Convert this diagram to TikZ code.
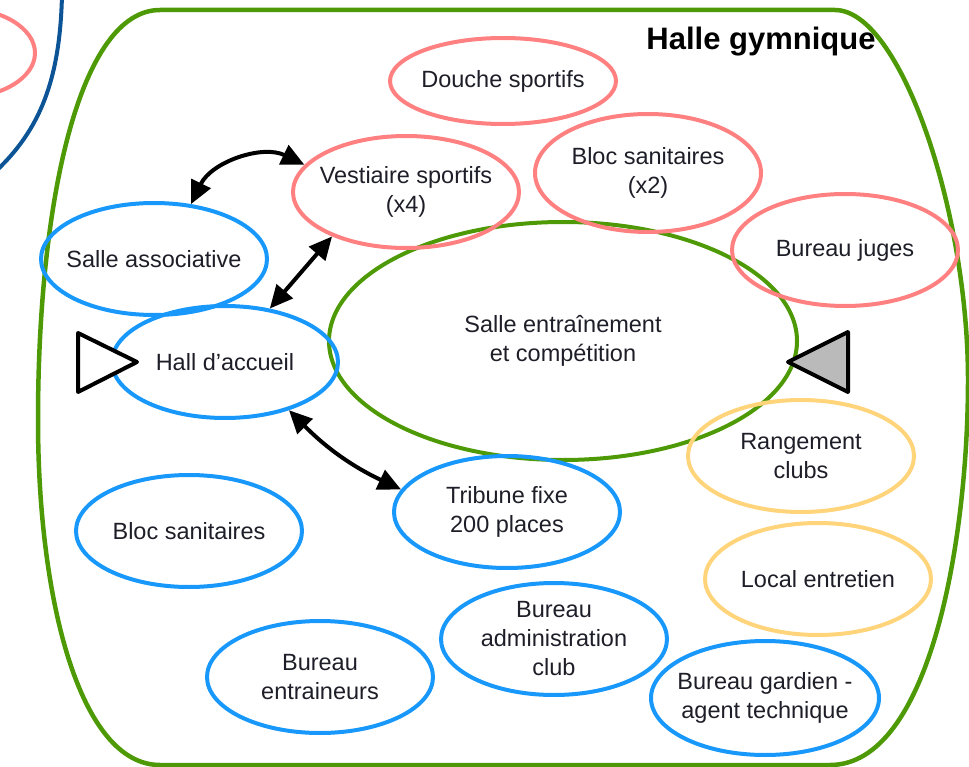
\documentclass[tikz,border=0pt]{standalone}
\usepackage{fontspec}
\setmainfont{Liberation Sans}
\usetikzlibrary{shapes.geometric,arrows.meta}
\definecolor{hallgreen}{RGB}{78,154,6}
\definecolor{sportpink}{RGB}{255,128,128}
\definecolor{publicblue}{RGB}{24,152,250}
\definecolor{clubyellow}{RGB}{255,212,122}
\definecolor{siteblue}{RGB}{12,84,150}
\definecolor{labelgray}{RGB}{30,30,40}

\begin{document}
\begin{tikzpicture}[x=1pt,y=-1pt,
    room/.style={ellipse,draw,line width=4pt,minimum width=226pt,minimum height=112pt,
      inner sep=0pt,inner xsep=-12pt,align=center,text=labelgray,
      font=\fontsize{23.5}{29}\selectfont},
    sport/.style={room,draw=sportpink},
    public/.style={room,draw=publicblue},
    club/.style={room,draw=clubyellow},
    link/.style={{Triangle[length=23pt,width=21pt]}-{Triangle[length=23pt,width=21pt]},line width=4pt}]
  \useasboundingbox (0,0) rectangle (969,767);
  \clip (0,0) rectangle (969,767);

  % Draw neighbouring building
  \draw [sportpink,line width=4pt] (-40,53) ellipse (75 and 45);
  \draw [siteblue,line width=4pt] (62,-5) .. controls (60,80) and (40,130) .. (-5,172);

  % Draw hall outline
  \draw [hallgreen,line width=4.5pt] (160,10) -- (835,10)
    .. controls (900,10) and (968,210) .. (968,380)
    .. controls (968,540) and (930,765) .. (830,765) -- (160,765)
    .. controls (80,765) and (38,600) .. (38,420)
    .. controls (38,200) and (80,10) .. (160,10);
  \node (title) at (761,42) {\fontsize{31}{35}\selectfont\bfseries Halle gymnique};

  % Rooms
  \node [room,draw=hallgreen,minimum width=468pt,minimum height=238pt] (arena) at (563,341)
    {Salle entraînement\\et compétition};
  \node [sport,minimum height=86pt] (shower) at (503,81) {Douche sportifs};
  \node [sport] (locker) at (406,192) {Vestiaire sportifs\\(x4)};
  \node [sport,minimum height=118pt] (wcsport) at (648,173) {Bloc sanitaires\\(x2)};
  \node [sport] (judges) at (845,250) {Bureau juges};
  \node [public] (assoc) at (154,259) {Salle associative};
  \node [public] (hall) at (225,362) {Hall d’accueil};
  \node [public] (stand) at (507,512) {Tribune fixe\\200 places};
  \node [public] (wcpublic) at (189,531) {Bloc sanitaires};
  \node [public] (admin) at (554,639) {Bureau\\administration\\club};
  \node [public] (coaches) at (320,677) {Bureau\\entraineurs};
  \node [public,minimum width=228pt,minimum height=114pt] (keeper) at (765,698)
    {Bureau gardien -\\agent technique};
  \node [club] (storage) at (801,456) {Rangement\\clubs};
  \node [club] (cleaning) at (818,579) {Local entretien};

  % Entrances
  \draw [line width=4pt,line join=round,fill=white] (78,333) -- (137,362) -- (78,392) -- cycle;
  \draw [line width=4pt,line join=round,fill=black!27] (848,332) -- (788,362) -- (848,392) -- cycle;

  % Links
  \draw [link] (assoc.56) to [bend left=45] (locker.165);
  \draw [link] (locker.211) -- (hall.50);
  \draw [link] (hall.323) to [bend right=10] (stand.168);
\end{tikzpicture}
\end{document}
